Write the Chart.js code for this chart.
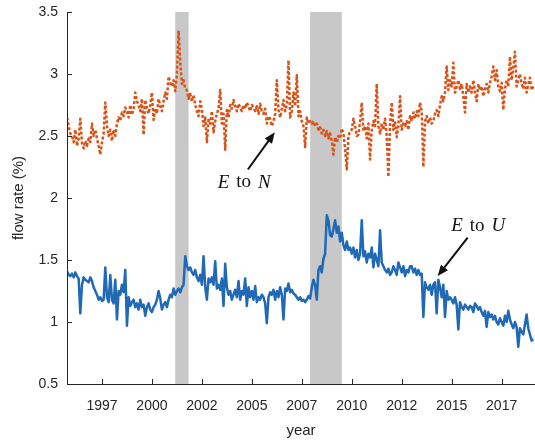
<!DOCTYPE html>
<html><head><meta charset="utf-8">
<script src="https://cdn.jsdelivr.net/npm/chart.js@4/dist/chart.umd.min.js"></script>
<style>html,body{margin:0;padding:0;background:#fff}#wrap{width:535px;height:440px;position:relative}</style>
</head><body><div id="wrap"><canvas id="c" width="535" height="440"></canvas></div>
<script>
// monthly series, first month = Oct 1995
const startYear = 1995.75;
const eToU = [
  1.41,1.38,1.37,
  1.39,1.36,1.40,1.37,1.35,1.07,1.30,1.36,1.34,1.33,1.32,1.36,
  1.33,1.28,1.25,1.22,1.18,1.20,1.17,1.18,1.44,1.20,1.16,1.38,
  1.18,1.15,1.34,1.02,1.25,1.22,1.30,1.24,1.42,0.97,1.20,1.13,
  1.16,1.18,1.12,1.15,1.10,1.18,1.12,1.14,1.05,1.12,1.15,1.10,
  1.08,1.12,1.14,1.18,1.25,1.19,1.10,1.14,1.16,1.12,1.18,1.22,
  1.20,1.27,1.22,1.25,1.27,1.24,1.28,1.30,1.53,1.45,1.42,1.44,
  1.40,1.38,1.42,1.36,1.33,1.38,1.30,1.53,1.28,1.18,1.35,1.32,
  1.36,1.30,1.49,1.27,1.30,1.26,1.35,1.13,1.47,1.28,1.22,1.25,
  1.18,1.22,1.26,1.20,1.33,1.18,1.25,1.22,1.35,1.13,1.28,1.20,
  1.25,1.18,1.29,1.16,1.20,1.18,1.22,1.20,1.15,0.99,1.20,1.24,
  1.22,1.26,1.18,1.25,1.20,1.28,1.22,1.02,1.27,1.25,1.31,1.24,
  1.26,1.23,1.22,1.20,1.18,1.20,1.17,1.18,1.16,1.18,1.21,1.19,
  1.28,1.34,1.30,1.18,1.42,1.45,1.40,1.51,1.55,1.86,1.82,1.70,
  1.69,1.75,1.82,1.72,1.77,1.65,1.72,1.62,1.58,1.65,1.58,1.60,
  1.55,1.60,1.52,1.58,1.50,1.55,1.82,1.53,1.57,1.48,1.55,1.52,
  1.60,1.44,1.55,1.50,1.45,1.74,1.48,1.45,1.42,1.40,1.43,1.38,
  1.40,1.45,1.42,1.38,1.48,1.44,1.40,1.45,1.37,1.42,1.40,1.45,
  1.45,1.40,1.43,1.38,1.42,1.38,1.39,1.04,1.32,1.28,1.26,1.30,
  1.22,1.30,1.32,1.07,1.34,1.28,1.20,1.30,1.04,1.25,1.18,1.20,
  1.18,1.15,1.20,1.14,0.94,1.16,1.12,1.10,1.14,1.12,1.10,1.13,
  1.12,1.08,1.15,1.13,1.10,1.12,1.08,1.05,1.09,0.96,1.08,1.04,
  1.06,1.02,1.05,1.00,0.98,1.03,1.00,0.97,1.05,1.00,1.09,1.02,
  0.98,0.95,1.00,0.96,0.80,0.95,0.92,0.90,0.98,1.06,0.95,0.90,
  0.85,0.86
];
const eToN = [
  2.65,2.58,2.52,
  2.50,2.45,2.55,2.42,2.48,2.64,2.44,2.40,2.46,2.42,2.48,2.45,
  2.60,2.50,2.55,2.48,2.42,2.35,2.45,2.52,2.77,2.58,2.50,2.55,
  2.46,2.55,2.50,2.60,2.65,2.62,2.69,2.66,2.73,2.70,2.65,2.75,
  2.67,2.72,2.85,2.78,2.75,2.70,2.80,2.51,2.79,2.72,2.68,2.75,
  2.85,2.63,2.72,2.68,2.80,2.74,2.70,2.78,2.85,2.80,2.98,2.93,
  2.90,2.95,2.86,3.00,3.35,3.10,2.92,2.95,2.88,2.87,2.80,2.84,
  2.78,2.83,2.75,2.70,2.66,2.78,2.72,2.58,2.65,2.45,2.63,2.60,
  2.70,2.53,2.62,2.68,2.72,2.87,2.60,2.68,2.39,2.71,2.65,2.75,
  2.72,2.79,2.74,2.70,2.76,2.73,2.70,2.75,2.72,2.77,2.74,2.70,
  2.75,2.73,2.70,2.74,2.68,2.76,2.70,2.68,2.72,2.60,2.66,2.64,
  2.58,2.62,2.68,2.95,2.71,2.65,2.72,2.79,2.70,2.75,3.11,2.65,
  2.70,2.85,2.74,2.99,2.66,2.70,2.62,2.58,2.41,2.65,2.60,2.62,
  2.60,2.62,2.58,2.60,2.55,2.57,2.52,2.55,2.50,2.54,2.48,2.52,
  2.46,2.35,2.49,2.45,2.50,2.48,2.56,2.52,2.40,2.23,2.50,2.54,
  2.55,2.64,2.58,2.50,2.51,2.62,2.77,2.54,2.58,2.48,2.60,2.31,
  2.55,2.62,2.58,2.92,2.58,2.52,2.60,2.55,2.64,2.50,2.17,2.60,
  2.77,2.55,2.62,2.49,2.58,2.82,2.55,2.60,2.58,2.62,2.55,2.66,
  2.62,2.69,2.64,2.70,2.66,2.77,2.70,2.25,2.62,2.66,2.60,2.65,
  2.60,2.62,2.68,2.71,2.66,2.75,2.82,2.78,2.85,3.06,2.87,2.95,
  2.90,3.09,2.85,2.90,2.95,2.88,2.92,2.82,2.69,2.92,2.85,2.90,
  2.85,2.95,2.85,2.78,2.92,2.87,2.90,2.82,2.88,2.92,2.85,2.93,
  2.98,3.06,2.95,3.03,2.90,2.86,2.93,2.71,2.88,2.95,2.90,3.14,
  2.95,3.05,3.18,2.90,2.95,3.00,2.92,2.88,2.97,2.85,2.92,2.97,
  2.87,2.90
];
const recessionStart = [2001.167, 2007.917];
const recessionEnd = [2001.833, 2009.5];
const xTickValues = [1997.5, 2000, 2002.5, 2005, 2007.5, 2010, 2012.5, 2015, 2017.5];
const xTickLabels = ['1997','2000','2002','2005','2007','2010','2012','2015','2017'];
const yTickValues = [0.5, 1, 1.5, 2, 2.5, 3, 3.5];
const yTickLabels = ['0.5','1','1.5','2','2.5','3','3.5'];
const annotations = [
  {label: ['E','to','N'], tx: 2004.62, ty: 2.125, ax0: 2004.8, ay0: 2.23, ax1: 2006.15, ay1: 2.53},
  {label: ['E','to','U'], tx: 2016.33, ty: 1.775, ax0: 2015.8, ay0: 1.68, ax1: 2014.3, ay1: 1.37}
];

const toPts = arr => arr.map((v, i) => ({x: startYear + i / 12, y: v}));
const AX = '#262626';

const decor = {
  id: 'decor',
  beforeDatasetsDraw(chart) {
    const {ctx, chartArea: a, scales: {x}} = chart;
    ctx.save();
    ctx.fillStyle = '#c8c8c8';
    recessionStart.forEach((s, i) => {
      const x0 = x.getPixelForValue(s), x1 = x.getPixelForValue(recessionEnd[i]);
      ctx.fillRect(x0, a.top, x1 - x0, a.bottom - a.top);
    });
    ctx.restore();
  },
  afterDatasetsDraw(chart) {
    const {ctx, chartArea: a, scales: {x, y}} = chart;
    ctx.save();
    ctx.strokeStyle = AX; ctx.lineWidth = 1;
    ctx.beginPath();
    ctx.moveTo(a.left + 0.5, a.top); ctx.lineTo(a.left + 0.5, a.bottom + 0.5); ctx.lineTo(a.right, a.bottom + 0.5);
    xTickValues.forEach(v => { const px = Math.round(x.getPixelForValue(v)) + 0.5; ctx.moveTo(px, a.bottom); ctx.lineTo(px, a.bottom - 5); });
    yTickValues.forEach(v => { const py = Math.round(y.getPixelForValue(v)) + 0.5; ctx.moveTo(a.left, py); ctx.lineTo(a.left + 5, py); });
    ctx.stroke();
    ctx.fillStyle = '#111'; ctx.strokeStyle = '#111';
    annotations.forEach(an => {
      const fontI = 'italic 19px "Liberation Serif"', fontR = '19px "Liberation Serif"';
      const gap = 7;
      const parts = an.label.map((t, k) => ({t, f: k === 1 ? fontR : fontI}));
      let w = gap * 2;
      parts.forEach(p => { ctx.font = p.f; p.w = ctx.measureText(p.t).width; w += p.w; });
      let cx = x.getPixelForValue(an.tx) - w / 2;
      const cy = y.getPixelForValue(an.ty);
      ctx.textBaseline = 'middle'; ctx.textAlign = 'left';
      parts.forEach(p => { ctx.font = p.f; ctx.fillText(p.t, cx, cy); cx += p.w + gap; });
      const x0 = x.getPixelForValue(an.ax0), y0 = y.getPixelForValue(an.ay0);
      const x1 = x.getPixelForValue(an.ax1), y1 = y.getPixelForValue(an.ay1);
      const ang = Math.atan2(y1 - y0, x1 - x0), L = 11, W = 4.5;
      ctx.lineWidth = 2;
      ctx.beginPath(); ctx.moveTo(x0, y0); ctx.lineTo(x1 - Math.cos(ang) * L * 0.8, y1 - Math.sin(ang) * L * 0.8); ctx.stroke();
      ctx.beginPath();
      ctx.moveTo(x1, y1);
      ctx.lineTo(x1 - Math.cos(ang) * L - Math.sin(ang) * W, y1 - Math.sin(ang) * L + Math.cos(ang) * W);
      ctx.lineTo(x1 - Math.cos(ang) * L + Math.sin(ang) * W, y1 - Math.sin(ang) * L - Math.cos(ang) * W);
      ctx.closePath(); ctx.fill();
    });
    ctx.restore();
  }
};

new Chart(document.getElementById('c'), {
  type: 'line',
  data: {
    datasets: [
      {label: 'E to N', data: toPts(eToN), borderColor: '#D95319', borderWidth: 2.5, borderDash: [3, 2], borderJoinStyle: 'round', pointRadius: 0, tension: 0, fill: false},
      {label: 'E to U', data: toPts(eToU), borderColor: '#1f69b6', borderWidth: 2.5, borderJoinStyle: 'round', pointRadius: 0, tension: 0, fill: false}
    ]
  },
  options: {
    responsive: false, animation: false, devicePixelRatio: 1,
    layout: {padding: {top: 12, right: 0, left: 0, bottom: 0}},
    plugins: {legend: {display: false}, tooltip: {enabled: false}},
    scales: {
      x: {
        type: 'linear', min: 1995.75, max: 2019.17,
        afterBuildTicks: s => { s.ticks = xTickValues.map(v => ({value: v})); },
        afterFit: s => { s.height = 56; s.paddingLeft = 0; s.paddingRight = 0; },
        grid: {display: false, drawTicks: false},
        border: {display: false},
        ticks: {color: AX, font: {family: '"Liberation Sans", Arial', size: 14}, padding: 14, maxRotation: 0, autoSkip: false,
          callback: v => xTickLabels[xTickValues.indexOf(v)]},
        title: {display: true, text: 'year', color: AX, font: {family: '"Liberation Sans", Arial', size: 15}, padding: {top: 0, bottom: 0}}
      },
      y: {
        type: 'linear', min: 0.5, max: 3.5,
        afterBuildTicks: s => { s.ticks = yTickValues.map(v => ({value: v})); },
        afterFit: s => { s.width = 67; s.paddingTop = 0; s.paddingBottom = 0; },
        grid: {display: false, drawTicks: false},
        border: {display: false},
        ticks: {color: AX, font: {family: '"Liberation Sans", Arial', size: 14}, padding: 9,
          callback: v => yTickLabels[yTickValues.indexOf(v)]},
        title: {display: true, text: 'flow rate (%)', color: AX, font: {family: '"Liberation Sans", Arial', size: 15}, padding: {top: 10, bottom: 0}}
      }
    }
  },
  plugins: [decor]
});
</script></body></html>
